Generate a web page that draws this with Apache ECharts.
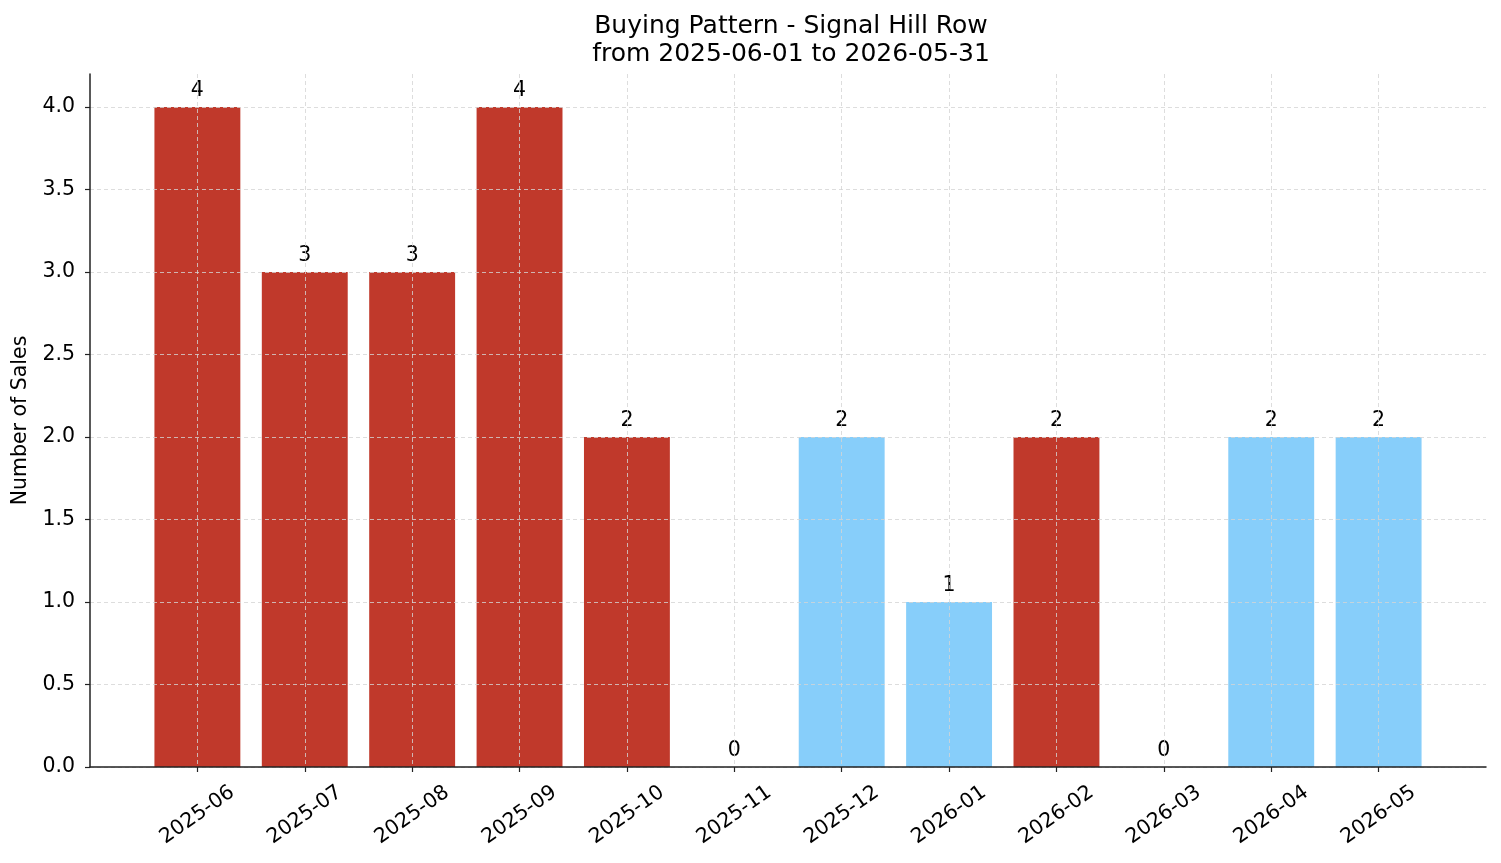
<!DOCTYPE html>
<html>
<head>
<meta charset="utf-8">
<script src="https://cdn.jsdelivr.net/npm/echarts@6/dist/echarts.min.js"></script>
<style>
  html, body { margin: 0; padding: 0; background: #fff; }
  #chart { width: 1501px; height: 863px; }
</style>
</head>
<body>
<div id="chart"></div>
<script>
// 数据
var months = ['2025-06', '2025-07', '2025-08', '2025-09', '2025-10', '2025-11',
              '2025-12', '2026-01', '2026-02', '2026-03', '2026-04', '2026-05'];
var sales = [4, 3, 3, 4, 2, 0, 2, 1, 2, 0, 2, 2];
// r = 红色, b = 浅蓝
var barKind = ['r', 'r', 'r', 'r', 'r', 'r', 'b', 'b', 'r', 'r', 'b', 'b'];
var yTicks = [0, 0.5, 1, 1.5, 2, 2.5, 3, 3.5, 4];

(function () {
    var myChart = echarts.init(document.getElementById('chart'));
    var font = 'DejaVu Sans';
    var colors = { r: '#c0392b', b: '#87cefa' };
    var idx = months.map(function (m, i) { return i; });

    var gridLine = { show: true, lineStyle: { color: '#d4d4d4', width: 0.8, type: [4, 3] } };

    var option = {
        animation: false,
        textStyle: { fontFamily: font },
        title: {
            text: 'Buying Pattern - Signal Hill Row\nfrom 2025-06-01 to 2026-05-31',
            left: 786,
            top: 7,
            textAlign: 'center',
            textStyle: { fontFamily: font, fontSize: 25, fontWeight: 'normal', color: '#000', lineHeight: 28 }
        },
        grid: { left: 90, right: 15, top: 74, bottom: 96 },
        xAxis: {
            type: 'value',
            min: -1,
            max: 12,
            interval: 1,
            z: 10,
            axisLine: { show: true, onZero: false, lineStyle: { color: '#222', width: 1.5 } },
            axisTick: { show: true, length: 5, customValues: idx, lineStyle: { color: '#222', width: 1.2 } },
            axisLabel: {
                customValues: idx,
                rotate: 35,
                align: 'center',
                verticalAlign: 'middle',
                margin: 48,
                fontSize: 20.5,
                color: '#000',
                formatter: function (v) { return months[v] || ''; }
            },
            splitLine: gridLine
        },
        yAxis: {
            type: 'value',
            name: 'Number of Sales',
            nameLocation: 'middle',
            nameGap: 58,
            nameTextStyle: { fontSize: 20.5, color: '#000' },
            min: 0,
            max: 4.2,
            z: 10,
            axisLine: { show: true, onZero: false, lineStyle: { color: '#222', width: 1.5 } },
            axisTick: { show: true, length: 5, customValues: yTicks, lineStyle: { color: '#222', width: 1.2 } },
            axisLabel: {
                customValues: yTicks,
                fontSize: 20.5,
                color: '#000',
                margin: 15,
                formatter: function (v) { return v.toFixed(1); }
            },
            splitLine: gridLine
        },
        series: [{
            type: 'bar',
            barWidth: '80%',
            data: sales.map(function (v, i) {
                return { value: [i, v], itemStyle: { color: colors[barKind[i]] } };
            }),
            label: {
                show: true,
                position: 'top',
                distance: 6,
                fontSize: 20.5,
                color: '#000',
                formatter: function (p) { return p.value[1]; }
            }
        }]
    };

    myChart.setOption(option);
    window.addEventListener('resize', function () {
        myChart.resize();
    });
})();
</script>
</body>
</html>
